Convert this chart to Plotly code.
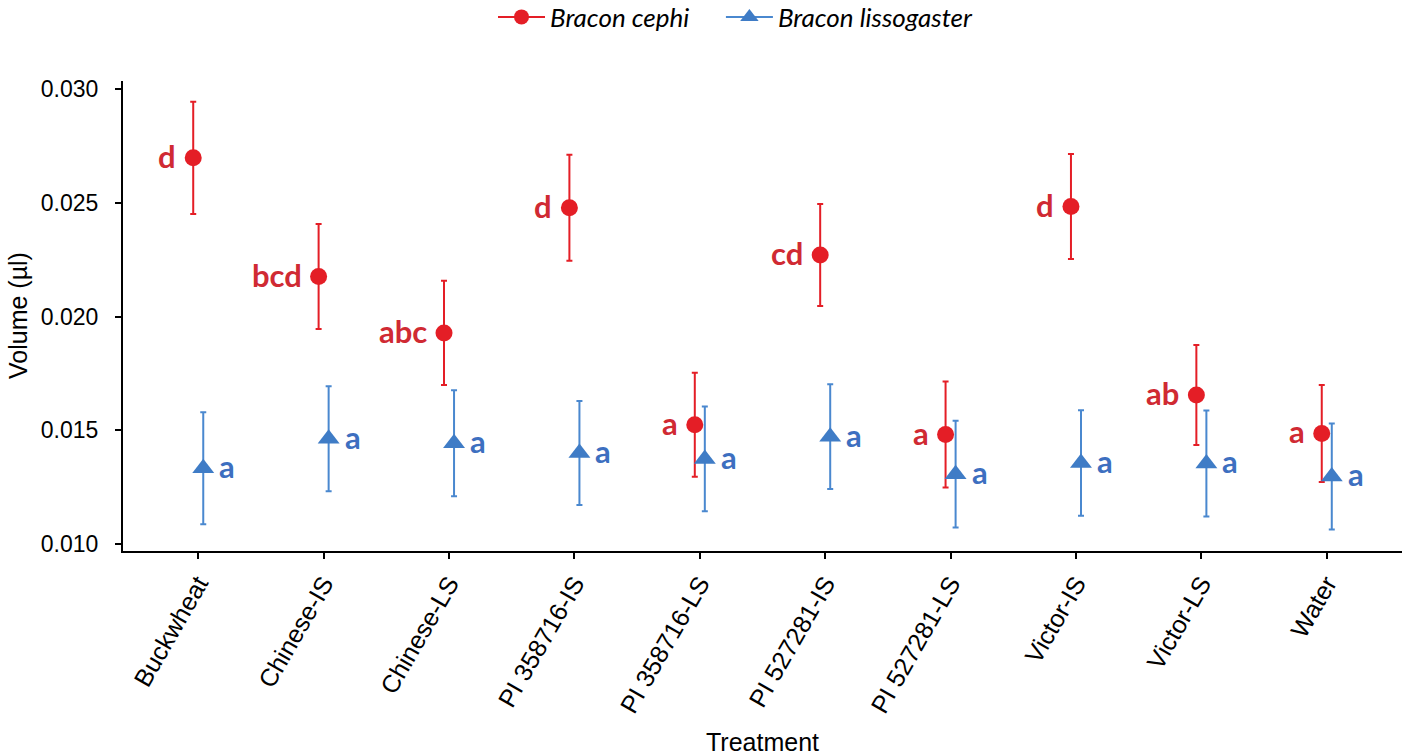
import plotly.graph_objects as go

treatments = ["Buckwheat", "Chinese-IS", "Chinese-LS", "PI 358716-IS", "PI 358716-LS",
              "PI 527281-IS", "PI 527281-LS", "Victor-IS", "Victor-LS", "Water"]

cephi_mean = [0.02698, 0.02176, 0.01928, 0.02479, 0.01524, 0.02271, 0.01481, 0.02484, 0.01655, 0.01486]
cephi_err = [0.00247, 0.00231, 0.00229, 0.00233, 0.00229, 0.00224, 0.00233, 0.00231, 0.00220, 0.00213]
cephi_letters = ["d", "bcd", "abc", "d", "a", "cd", "a", "d", "ab", "a"]

liss_mean = [0.01333, 0.01463, 0.01443, 0.01400, 0.01374, 0.01472, 0.01307, 0.01356, 0.01354, 0.01297]
liss_err = [0.00246, 0.00231, 0.00233, 0.00229, 0.00230, 0.00230, 0.00235, 0.00232, 0.00233, 0.00233]
liss_letters = ["a"] * 10

y_ticks = [0.010, 0.015, 0.020, 0.025, 0.030]
y_tick_labels = ["0.010", "0.015", "0.020", "0.025", "0.030"]

RED = "#E41E26"
RED_TXT = "#D02A33"
BLUE = "#3F7CC6"
BLUE_BAR = "#4A88CF"
BLUE_TXT = "#3D6FC0"

PLOT_L, PLOT_R, PLOT_T, PLOT_B = 123, 1402, 81, 551
W, H = 1406, 755

dodge = 0.04
pos = list(range(1, len(treatments) + 1))
x_red = [p - dodge for p in pos]
x_blue = [p + dodge for p in pos]

fig = go.Figure()

fig.add_trace(go.Scatter(
    x=x_red, y=cephi_mean, mode="markers", showlegend=False,
    marker=dict(symbol="circle", size=17, color=RED),
    error_y=dict(type="data", array=cephi_err, color=RED, thickness=2, width=3),
))
fig.add_trace(go.Scatter(
    x=x_blue, y=liss_mean, mode="markers", showlegend=False,
    marker=dict(symbol="triangle-up", size=19, color=BLUE),
    error_y=dict(type="data", array=liss_err, color=BLUE_BAR, thickness=2, width=3),
))

# legend entries (line + marker glyph)
fig.add_trace(go.Scatter(
    x=[None], y=[None], mode="lines+markers",
    name="<i>Bracon cephi</i>&nbsp;&nbsp;&nbsp;&nbsp;",
    marker=dict(symbol="circle", size=15, color=RED), line=dict(color=RED, width=2),
))
fig.add_trace(go.Scatter(
    x=[None], y=[None], mode="lines+markers", name="<i>Bracon lissogaster</i>",
    marker=dict(symbol="triangle-up", size=17, color=BLUE), line=dict(color=BLUE_BAR, width=2),
))

annotations = []
for xr, yv, lab in zip(x_red, cephi_mean, cephi_letters):
    annotations.append(dict(x=xr, y=yv, text=lab, showarrow=False, xanchor="right", yanchor="middle",
                            xshift=-15, yshift=2,
                            font=dict(family="Lato, Open Sans, sans-serif", size=31, color=RED_TXT, weight="bold")))
for xb, yv, lab in zip(x_blue, liss_mean, liss_letters):
    annotations.append(dict(x=xb, y=yv, text=lab, showarrow=False, xanchor="left", yanchor="middle",
                            xshift=14, yshift=2,
                            font=dict(family="Lato, Open Sans, sans-serif", size=31, color=BLUE_TXT, weight="bold")))

pw = PLOT_R - PLOT_L
ph = PLOT_B - PLOT_T
annotations.append(dict(text="Treatment", xref="paper", yref="paper",
                        x=((PLOT_L + PLOT_R) / 2 - PLOT_L) / pw, y=(PLOT_B - 742) / ph,
                        xanchor="center", yanchor="middle", showarrow=False,
                        font=dict(family="Liberation Sans, Arial, sans-serif", size=25, color="black")))
annotations.append(dict(text="Volume (µl)", xref="paper", yref="paper",
                        x=(18 - PLOT_L) / pw, y=0.5, textangle=-90,
                        xanchor="center", yanchor="middle", showarrow=False,
                        font=dict(family="Liberation Sans, Arial, sans-serif", size=25, color="black")))

fig.update_layout(
    width=W, height=H, autosize=False,
    margin=dict(l=PLOT_L, r=W - PLOT_R, t=PLOT_T, b=H - PLOT_B, autoexpand=False),
    paper_bgcolor="white", plot_bgcolor="white",
    font=dict(family="Liberation Sans, Arial, sans-serif", color="black"),
    annotations=annotations,
    legend=dict(orientation="h", xref="container", x=(503 - 10) / W, xanchor="left",
                y=1 - 17 / H, yanchor="middle", yref="container",
                font=dict(family="Lato, sans-serif", size=26, color="black"),
                itemwidth=47, bgcolor="rgba(0,0,0,0)"),
    xaxis=dict(
        range=[0.4, 10.6], tickmode="array", tickvals=pos, ticktext=treatments,
        tickangle=-60, showgrid=False, zeroline=False, automargin=False,
        showline=True, linecolor="black", linewidth=2,
        ticks="outside", ticklen=6, tickwidth=2, tickcolor="black",
        tickfont=dict(size=25, color="black"),
    ),
    yaxis=dict(
        range=[0.00969, 0.03036], tickmode="array",
        tickvals=y_ticks, ticktext=y_tick_labels,
        showgrid=False, zeroline=False, automargin=False,
        showline=True, linecolor="black", linewidth=2,
        ticks="outside", ticklen=6, tickwidth=2, tickcolor="black",
        tickfont=dict(size=23, color="black"), ticklabelstandoff=12,
    ),
)

fig.write_html("out.html", config={"displayModeBar": False},
               post_script="document.body.style.margin='0px';")
